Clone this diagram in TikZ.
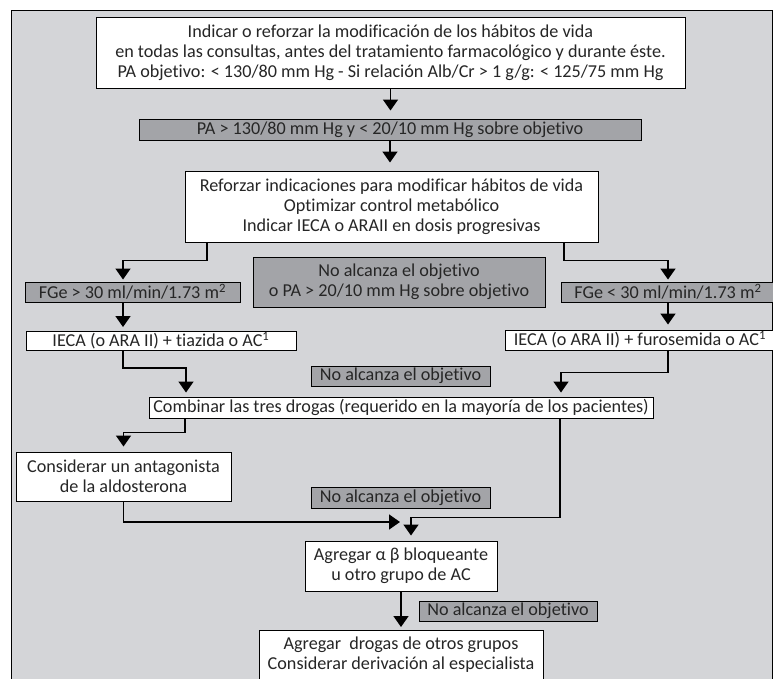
\documentclass[tikz,border=0pt]{standalone}
\usepackage{fontspec}
\setmainfont{Carlito}[Ligatures=NoCommon]
\usetikzlibrary{positioning,arrows.meta}
\definecolor{panelgrey}{RGB}{212,213,216}
\definecolor{boxgrey}{RGB}{163,164,168}

\begin{document}
\begin{tikzpicture}[x=0.03cm, y=-0.03cm, >={Triangle[length=0.33cm,width=0.45cm]},
    box/.style={rectangle, draw, fill=white, align=center, inner sep=0pt, line width=0.8pt, text=black!85, font=\fontsize{15.5}{17}\selectfont},
    grey box/.style={box, fill=boxgrey},
    flow/.style={->, line width=1.4pt}]
  \useasboundingbox (0,0) rectangle (773,679);
  \clip (0,0) rectangle (773,679);
  \fill[panelgrey, draw=black, line width=0.8pt] (11,10) rectangle (772,700);

  \node[box, minimum width=17.67cm, minimum height=2.13cm] (habitos) at (390.5,52.5) {Indicar o reforzar la modificación de los hábitos de vida\\ en todas las consultas, antes del tratamiento farmacológico y durante éste.\\ PA objetivo: < 130/80 mm Hg - Si relación Alb/Cr > 1 g/g: < 125/75 mm Hg};
  \node[grey box, minimum width=15.06cm, minimum height=0.63cm] (pa) at (390,129.5) {PA > 130/80 mm Hg y < 20/10 mm Hg sobre objetivo};
  \node[box, minimum width=12.39cm, minimum height=2.13cm] (reforzar) at (391.5,206.5) {Reforzar indicaciones para modificar hábitos de vida\\ Optimizar control metabólico\\ Indicar IECA o ARAII en dosis progresivas};
  \node[grey box, minimum width=6.45cm, minimum height=0.6cm] (fgeA) at (132.5,292) {FGe > 30 ml/min/1.73 m\textsuperscript{2}};
  \node[grey box, minimum width=8.76cm, minimum height=1.5cm] (noalcA) at (399,282) {No alcanza el objetivo\\ o PA > 20/10 mm Hg sobre objetivo};
  \node[grey box, minimum width=6.42cm, minimum height=0.6cm] (fgeB) at (668,292) {FGe < 30 ml/min/1.73 m\textsuperscript{2}};
  \node[box, minimum width=8.1cm, minimum height=0.57cm] (iecaA) at (161,341) {IECA (o ARA II) + tiazida o AC\textsuperscript{1}};
  \node[box, minimum width=8.1cm, minimum height=0.6cm] (iecaB) at (640,340) {IECA (o ARA II) + furosemida o AC\textsuperscript{1}};
  \node[grey box, minimum width=5.37cm, minimum height=0.6cm] (noalcB) at (400.5,376) {No alcanza el objetivo};
  \node[box, minimum width=15.12cm, minimum height=0.63cm] (combinar) at (401,407.5) {Combinar las tres drogas (requerido en la mayoría de los pacientes)};
  \node[box, minimum width=6.45cm, minimum height=1.47cm] (antag) at (123.5,476.5) {Considerar un antagonista\\ de la aldosterona};
  \node[grey box, minimum width=5.37cm, minimum height=0.63cm] (noalcC) at (400.5,497.5) {No alcanza el objetivo};
  \node[box, minimum width=5.76cm, minimum height=1.5cm] (alfabeta) at (401,566) {Agregar α β bloqueante\\ u otro grupo de AC};
  \node[grey box, minimum width=5.34cm, minimum height=0.6cm] (noalcD) at (508,611) {No alcanza el objetivo};
  \node[box, minimum width=8.52cm, minimum height=2.13cm, anchor=north] (final) at (401,630) {Agregar~ drogas de otros grupos\\ Considerar derivación al especialista\\ \strut};
  \coordinate (join) at (400,522);

  % flechas
  \draw[flow, shorten >=0.24cm] (habitos.south) -- (habitos.south |- pa.north);
  \draw[flow, shorten >=0.24cm] (pa.south) -- (pa.south |- reforzar.north);
  \draw[flow, shorten >=0.06cm] (reforzar.south -| 207,0) -- ++(0,18) -| (fgeA.north -| 123,0);
  \draw[flow, shorten >=0.06cm] (reforzar.south -| 564,0) -- ++(0,18) -| (fgeB.north);
  \draw[flow, shorten >=0.12cm] (fgeA.south -| 123,0) -- (iecaA.north -| 123,0);
  \draw[flow, shorten >=0.15cm] (fgeB.south) -- (fgeB.south |- iecaB.north);
  \draw[flow, shorten >=0.12cm] (iecaA.south -| 123,0) -- ++(0,17) -| (combinar.north -| 186,0);
  \draw[flow, shorten >=0.12cm] (iecaB.south -| 668,0) -- ++(0,22) -| (combinar.north -| 561,0);
  \draw[flow, shorten >=0.15cm] (combinar.south -| 185,0) -- ++(0,14) -| (antag.north);
  \draw[flow, shorten >=0.15cm] (combinar.south -| 560,0) -- ++(0,99) -| (alfabeta.north -| 411,0);
  \draw[flow] (antag.south) |- (join);
  \draw[flow, shorten >=0.09cm] (alfabeta.south) -- (alfabeta.south |- final.north);
\end{tikzpicture}
\end{document}
